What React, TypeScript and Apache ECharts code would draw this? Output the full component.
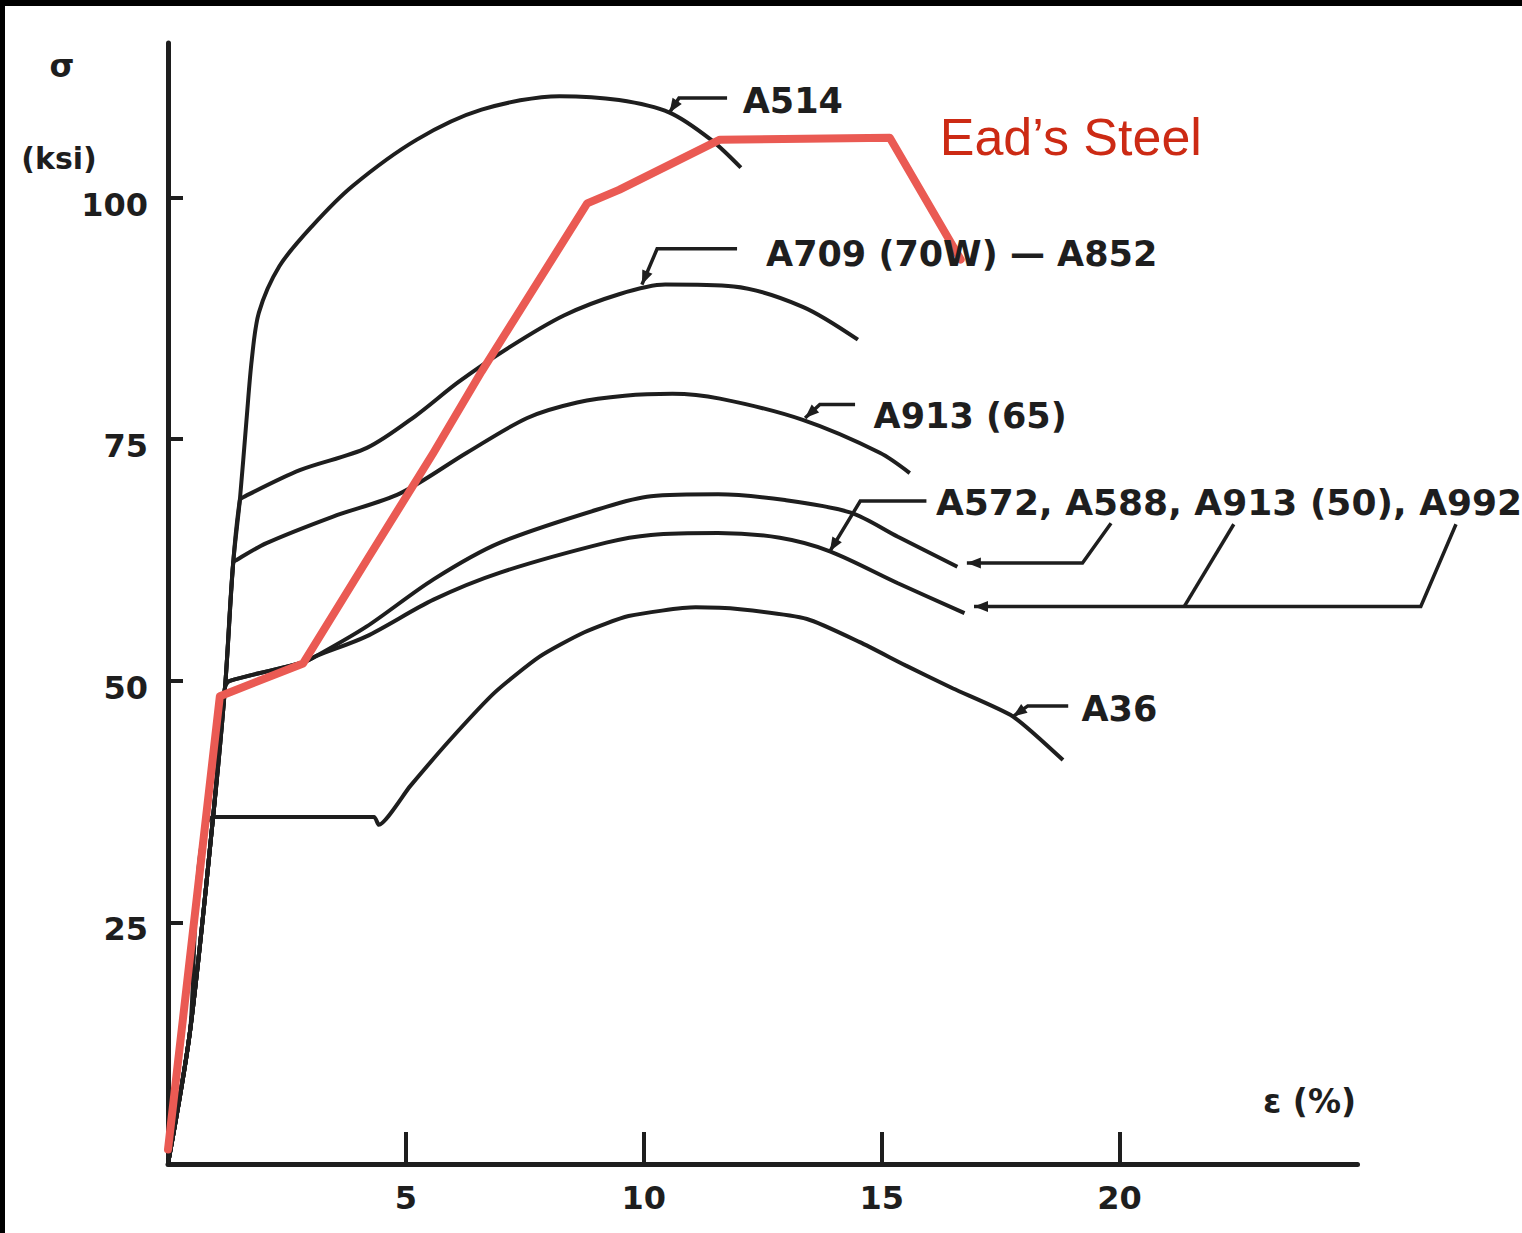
import React, { useEffect, useRef } from "react";
import * as echarts from "echarts";

// ---- axis ticks ----
const xTicks = [5, 10, 15, 20];
const yTicks = [25, 50, 75, 100];

// ---- stress–strain curves: [strain %, stress ksi] ----
const a514 = [
  [0, 0], [0.46, 13.6], [0.95, 36], [1.2, 49.4], [1.37, 62.2], [1.51, 68.7], [1.65, 77], [1.76, 83.2],
  [1.91, 88.1], [2.34, 92.9], [3.02, 97.0], [3.88, 101.2], [5.23, 106.0], [6.59, 109.1], [8.23, 110.5],
  [9.48, 110.1], [10.54, 108.8], [11.41, 106.0], [12.04, 103.1],
];
const a709 = [
  [0, 0], [0.46, 13.6], [0.95, 36], [1.2, 49.4], [1.37, 62.2], [1.51, 68.7], [1.58, 69.0], [2.77, 71.8],
  [4.18, 74.1], [5.2, 77.4], [6.1, 80.9], [7.17, 84.5], [8.32, 87.8], [9.48, 90.0], [10.45, 91.0],
  [11.89, 90.8], [13.34, 88.7], [14.5, 85.3],
];
const a913_65 = [
  [0, 0], [0.46, 13.6], [0.95, 36], [1.2, 49.4], [1.37, 62.2], [1.44, 62.5], [2.07, 64.25], [3.47, 67.0],
  [4.88, 69.4], [6.28, 73.6], [7.55, 77.2], [8.6, 78.8], [9.6, 79.5], [10.6, 79.7], [11.6, 79.2],
  [13.34, 77.0], [14.96, 73.6], [15.59, 71.5],
];
const a572Upper = [
  [0, 0], [0.46, 13.6], [0.95, 36], [1.2, 49.4], [1.3, 50.0], [2.84, 51.9], [3.13, 52.6], [4.17, 55.6],
  [5.58, 60.5], [6.98, 64.3], [9.21, 68.0], [10.15, 69.1], [11.56, 69.3], [12.97, 68.7], [14.35, 67.4],
  [15.34, 64.9], [16.59, 61.8],
];
const a572Lower = [
  [0, 0], [0.46, 13.6], [0.95, 36], [1.2, 49.4], [1.3, 50.0], [2.84, 51.9], [3.13, 52.6], [4.17, 54.6],
  [5.58, 58.4], [6.98, 61.2], [9.21, 64.3], [10.15, 65.1], [11.56, 65.3], [12.86, 64.8], [13.91, 63.4],
  [15.34, 60.1], [16.74, 57.0],
];
const a36 = [
  [0, 0], [0.46, 13.6], [0.95, 35.9], [4.33, 35.9], [4.43, 35.1], [5.09, 39.1], [5.93, 43.9], [6.87, 48.8],
  [7.81, 52.5], [8.74, 55.0], [9.68, 56.7], [11.09, 57.6], [12.02, 57.4], [13.43, 56.4], [14.54, 54.0],
  [15.5, 51.6], [16.5, 49.2], [17.76, 46.3], [18.81, 41.8],
];
const eadsSteel = [
  [0, 1.5], [1.09, 48.4], [2.84, 51.8], [4.18, 62.5], [5.58, 73.6], [6.59, 82.0], [8.81, 99.4],
  [9.48, 100.8], [11.6, 106.0], [15.17, 106.2], [16.66, 93.6],
];

// ---- annotation leaders (data coordinates); arrowhead at the first point when arrow = true ----
const leaderA514 = [[10.54, 108.8], [10.74, 110.3], [11.75, 110.3]];
const leaderA709 = [[9.96, 91.0], [10.28, 94.7], [11.96, 94.7]];
const leaderA913 = [[13.39, 77.2], [13.7, 78.6], [14.44, 78.6]];
const leaderA572 = [[13.91, 63.4], [14.55, 68.6], [15.94, 68.6]];
const leaderEnd4 = [[16.79, 62.2], [19.22, 62.2], [19.82, 66.3]];
const leaderEnd5 = [[16.94, 57.7], [26.33, 57.7], [27.07, 66.2]];
const leaderEnd5Branch = [[21.36, 57.7], [22.4, 66.2]];
const leaderA36 = [[17.76, 46.3], [18.07, 47.4], [18.92, 47.4]];

const leaders = [
  { points: leaderA514, arrow: true },
  { points: leaderA709, arrow: true },
  { points: leaderA913, arrow: true },
  { points: leaderA572, arrow: true },
  { points: leaderEnd4, arrow: true },
  { points: leaderEnd5, arrow: true },
  { points: leaderEnd5Branch, arrow: false },
  { points: leaderA36, arrow: true },
];

// ---- labels ----
const labelTexts = ["A514", "A709 (70W) — A852", "A913 (65)", "A572, A588, A913 (50), A992", "A36", "Ead’s Steel"];
const labelAnchors = [[12.08, 110.0], [12.57, 94.2], [14.83, 77.4], [16.14, 68.5], [19.2, 47.1], [16.22, 106.3]];

const INK = "#1e1e1e";
const RED_LINE = "#ea5a53";
const RED_TEXT = "#cc2a14";

export default function App() {
  const ref = useRef<HTMLDivElement>(null);

  useEffect(() => {
    if (!ref.current) return;
    const chart = echarts.init(ref.current, undefined, { renderer: "svg" });

    const curve = (name: string, data: number[][], smooth: number) => ({
      name,
      type: "line",
      data,
      smooth,
      symbol: "none",
      clip: false,
      lineStyle: { color: INK, width: 4 },
      z: 3,
    });

    const option: any = {
      animation: false,
      backgroundColor: "#ffffff",
      grid: { left: 163, right: 164.5, top: 37, bottom: 69, containLabel: false },
      xAxis: {
        type: "value",
        min: 0,
        max: 25,
        interval: 5,
        splitLine: { show: false },
        axisLine: { show: true, onZero: false, lineStyle: { color: INK, width: 5 } },
        axisTick: { show: true, inside: true, length: 32, customValues: xTicks, lineStyle: { color: INK, width: 4 } },
        axisLabel: {
          show: true,
          customValues: xTicks,
          margin: 18,
          color: INK,
          fontFamily: "DejaVu Sans",
          fontWeight: "bold",
          fontSize: 32,
          formatter: (v: number) => (xTicks.includes(v) ? String(v) : ""),
        },
      },
      yAxis: {
        type: "value",
        min: 0,
        max: 116,
        interval: 25,
        splitLine: { show: false },
        axisLine: { show: true, onZero: false, lineStyle: { color: INK, width: 5 } },
        axisTick: { show: true, inside: true, length: 15, customValues: yTicks, lineStyle: { color: INK, width: 4 } },
        axisLabel: {
          show: true,
          customValues: yTicks,
          margin: 20,
          verticalAlign: "top",
          lineHeight: 14,
          color: INK,
          fontFamily: "DejaVu Sans",
          fontWeight: "bold",
          fontSize: 32,
          formatter: (v: number) => (yTicks.includes(v) ? String(v) : ""),
        },
      },
      graphic: [
        {
          type: "text",
          x: 57,
          y: 60,
          style: { text: "σ", font: "bold 32px 'DejaVu Sans'", fill: INK, textAlign: "center", textVerticalAlign: "middle" },
        },
        {
          type: "text",
          x: 54,
          y: 152,
          style: { text: "(ksi)", font: "bold 30px 'DejaVu Sans'", fill: INK, textAlign: "center", textVerticalAlign: "middle" },
        },
        {
          type: "text",
          x: 1258,
          y: 1095,
          style: { text: "ε (%)", font: "bold 33px 'DejaVu Sans'", fill: INK, textAlign: "left", textVerticalAlign: "middle" },
        },
      ],
      series: [
        curve("A514", a514, 0.3),
        curve("A709 (70W) — A852", a709, 0.3),
        curve("A913 (65)", a913_65, 0.3),
        curve("A572 upper", a572Upper, 0.3),
        curve("A572 lower", a572Lower, 0.3),
        curve("A36", a36, 0.2),
        {
          name: "leaders",
          type: "custom",
          data: leaders.map((l) => l.points[0]),
          clip: false,
          z: 4,
          renderItem: (params: any, api: any) => {
            const leader = leaders[params.dataIndex];
            const pts = leader.points.map((p) => api.coord(p));
            const children: any[] = [
              {
                type: "polyline",
                shape: { points: pts },
                style: { stroke: INK, lineWidth: 3.5, fill: null },
              },
            ];
            if (leader.arrow) {
              const [x0, y0] = pts[0];
              const [x1, y1] = pts[1];
              const len = Math.hypot(x1 - x0, y1 - y0) || 1;
              const ux = (x0 - x1) / len;
              const uy = (y0 - y1) / len;
              const L = 14;
              const W = 5.5;
              const bx = x0 - ux * L;
              const by = y0 - uy * L;
              children.push({
                type: "polygon",
                shape: { points: [[x0, y0], [bx - uy * W, by + ux * W], [bx + uy * W, by - ux * W]] },
                style: { fill: INK },
              });
            }
            return { type: "group", children };
          },
        },
        {
          name: "Ead’s Steel",
          type: "line",
          data: eadsSteel,
          symbol: "none",
          clip: false,
          lineStyle: { color: RED_LINE, width: 8, cap: "round", join: "round" },
          z: 6,
        },
        {
          name: "labels",
          type: "custom",
          data: labelAnchors,
          clip: false,
          z: 7,
          renderItem: (params: any, api: any) => {
            const i = params.dataIndex;
            const [x, y] = api.coord(labelAnchors[i]);
            const isRed = i === labelTexts.length - 1;
            const isLong = i === 3;
            return {
              type: "text",
              x,
              y,
              style: {
                text: labelTexts[i],
                font: isRed ? "52px 'Liberation Sans'" : isLong ? "bold 36px 'DejaVu Sans'" : "bold 35px 'DejaVu Sans'",
                fill: isRed ? RED_TEXT : INK,
                textAlign: "left",
                textVerticalAlign: "middle",
              },
            };
          },
        },
      ],
    };

    chart.setOption(option);
    return () => chart.dispose();
  }, []);

  return (
    <div style={{ position: "absolute", left: 0, top: 0, width: 1522, height: 1233, background: "#000" }}>
      <div
        ref={ref}
        style={{ position: "absolute", left: 5, top: 6, width: 1517, height: 1227, background: "#fff" }}
      />
    </div>
  );
}
